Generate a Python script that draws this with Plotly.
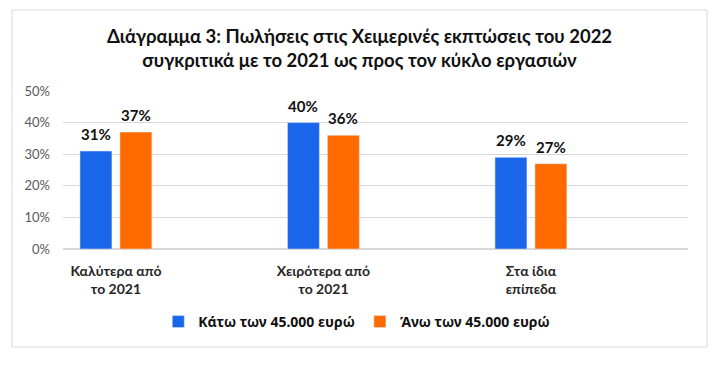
import plotly.graph_objects as go

categories = ["Καλύτερα από<br>το 2021", "Χειρότερα από<br>το 2021", "Στα ίδια<br>επίπεδα"]
below_45k = [31, 40, 29]
above_45k = [37, 36, 27]
series_names = ["Κάτω των 45.000 ευρώ", "Άνω των 45.000 ευρώ"]
y_ticks = [0, 10, 20, 30, 40, 50]
y_tick_labels = ["0%", "10%", "20%", "30%", "40%", "50%"]
title_text = "Διάγραμμα 3: Πωλήσεις στις Χειμερινές εκπτώσεις του 2022<br>συγκριτικά με το 2021 ως προς τον κύκλο εργασιών"

FONT = "Lato"
fig = go.Figure()
series = [(series_names[0], below_45k, "#1A66EA", -20), (series_names[1], above_45k, "#FF6A00", 20)]
for name, vals, color, dx in series:
    fig.add_trace(go.Bar(x=categories, y=vals, name=f"<b>{name}</b>", marker_color=color))
    for c, v in zip(categories, vals):
        fig.add_annotation(x=c, y=v, text=f"<b>{v}%</b>", showarrow=False,
                           xshift=dx, yshift=17, yanchor="middle", xanchor="center",
                           font=dict(family=FONT, size=15, color="#111111"))

fig.update_layout(
    width=719, height=370,
    margin=dict(l=63, r=31, t=91, b=121, autoexpand=False),
    paper_bgcolor="white", plot_bgcolor="white",
    barmode="group", bargap=0.615, bargroupgap=0.2,
    title=dict(text="<b>" + title_text + "</b>", x=0.5, xanchor="center",
               y=1 - 43 / 370, yanchor="middle",
               font=dict(family=FONT, size=18.5, color="#111111")),
    legend=dict(orientation="h", x=0.47, xanchor="center", y=-(322 - 249) / 158, yanchor="middle",
                font=dict(family="Noto Sans", size=14, color="#111111"),
                itemwidth=30, tracegroupgap=0, traceorder="normal"),
    font=dict(family=FONT),
    showlegend=True,
)
fig.update_yaxes(range=[0, 50], tickmode="array", tickvals=y_ticks, ticktext=y_tick_labels,
                 showgrid=True, gridcolor="#D9D9D9", gridwidth=1,
                 zeroline=True, zerolinecolor="#D9D9D9",
                 tickfont=dict(family=FONT, size=13, color="#595959"), ticks="", ticklen=0,
                 ticklabelstandoff=12)
fig.update_xaxes(showline=False, ticks="", range=[-0.255, 2.757],
                 tickfont=dict(family=FONT, size=14, color="#262626", weight="bold"),
                 ticklabelstandoff=12)
fig.add_shape(type="rect", xref="paper", yref="paper",
              x0=-51 / 625, x1=(707 - 63) / 625, y0=-(347 - 249) / 158, y1=1 + (91 - 10) / 158,
              line=dict(color="#D9D9D9", width=1), fillcolor="rgba(0,0,0,0)", layer="below")
fig.write_html("out.html", config={"displayModeBar": False},
               post_script="document.body.style.margin='0';")
